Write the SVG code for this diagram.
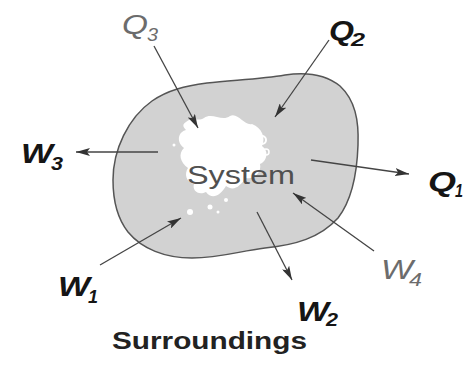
<svg xmlns="http://www.w3.org/2000/svg" width="465" height="367" viewBox="0 0 465 367">
<defs>
<marker id="ah" viewBox="0 0 14 8" refX="14" refY="4" markerWidth="14" markerHeight="8" markerUnits="userSpaceOnUse" orient="auto">
<path d="M0,0 L14,4 L0,8 L3,4 z" fill="#333"/>
</marker>
<style>
.lbl{font-family:"Liberation Sans",Arial,sans-serif;font-style:italic;}
.b{font-weight:bold;fill:#151515;}
.g{font-weight:normal;fill:#6c6c6c;}
.conn line{stroke:#444;stroke-width:1.3;marker-end:url(#ah);}
</style>
</defs>
<rect width="465" height="367" fill="#fff"/>
<g id="system">
<path d="M113,180 C113,150 128,118 152,101 C168,90 185,86 207,83 C235,80 262,79 285,75 C305,72 325,74 340,86 C355,100 359,120 358,145 C357,175 352,200 338,218 C320,238 295,245 265,248 C240,251 220,258 192,258 C165,258 142,249 128,232 C117,218 113,200 113,180 Z" fill="#d2d2d2" stroke="#555" stroke-width="1.5"/>
<path d="M186,122 C192,116 198,122 204,118 C212,112 222,122 230,116 C238,112 244,126 252,124 C262,128 266,138 262,146 C270,152 266,162 260,164 C262,172 254,180 246,178 C240,186 234,192 226,186 C220,196 212,200 206,192 C198,196 192,190 194,184 C186,182 184,174 188,168 C180,162 178,154 184,148 C176,142 178,132 186,130 C182,126 183,124 186,122 Z" fill="#fff"/>
<circle cx="190" cy="212" r="3" fill="#fff"/>
<circle cx="210" cy="207" r="2.5" fill="#fff"/>
<circle cx="226" cy="200" r="2" fill="#fff"/>
<circle cx="218" cy="212" r="1.5" fill="#fff"/>
<circle cx="174" cy="145" r="1.5" fill="#fff"/>
<circle cx="262" cy="140" r="4" fill="none" stroke="#fff" stroke-width="2"/>
<circle cx="266" cy="152" r="3" fill="none" stroke="#fff" stroke-width="1.5"/>
<text x="187" y="184" textLength="108" lengthAdjust="spacingAndGlyphs" font-family="Liberation Sans, Arial, sans-serif" font-size="26" fill="#505050">System</text>
</g>
<g id="connectors" class="conn">
<line x1="154" y1="46" x2="198" y2="128"/>
<line x1="329" y1="40" x2="275" y2="117"/>
<line x1="158" y1="152" x2="76" y2="152"/>
<line x1="311" y1="160" x2="409" y2="174"/>
<line x1="100" y1="265" x2="181" y2="218"/>
<line x1="257" y1="212" x2="292" y2="280"/>
<line x1="374" y1="251" x2="293" y2="193"/>
</g>
<g id="Q3"><text class="lbl g" x="122" y="34" font-size="28" textLength="26" lengthAdjust="spacingAndGlyphs">Q</text><text class="lbl g" x="147" y="41" font-size="18" textLength="11" lengthAdjust="spacingAndGlyphs">3</text></g>
<g id="Q2"><text class="lbl b" x="329" y="40" font-size="28" textLength="25" lengthAdjust="spacingAndGlyphs">Q</text><text class="lbl b" x="351" y="46" font-size="18" textLength="14" lengthAdjust="spacingAndGlyphs">2</text></g>
<g id="W3"><text class="lbl b" x="21" y="163" font-size="28" textLength="32" lengthAdjust="spacingAndGlyphs">W</text><text class="lbl b" x="51" y="170" font-size="18" textLength="12" lengthAdjust="spacingAndGlyphs">3</text></g>
<g id="Q1"><text class="lbl b" x="428" y="191" font-size="28" textLength="28" lengthAdjust="spacingAndGlyphs">Q</text><text class="lbl b" x="455" y="197" font-size="18" textLength="8" lengthAdjust="spacingAndGlyphs">1</text></g>
<g id="W1"><text class="lbl b" x="58" y="296" font-size="28" textLength="32" lengthAdjust="spacingAndGlyphs">W</text><text class="lbl b" x="88" y="303" font-size="18" textLength="10" lengthAdjust="spacingAndGlyphs">1</text></g>
<g id="W2"><text class="lbl b" x="297" y="321" font-size="28" textLength="32" lengthAdjust="spacingAndGlyphs">W</text><text class="lbl b" x="326" y="326" font-size="18" textLength="12" lengthAdjust="spacingAndGlyphs">2</text></g>
<g id="W4"><text class="lbl g" x="381" y="279" font-size="28" textLength="32" lengthAdjust="spacingAndGlyphs">W</text><text class="lbl g" x="409" y="286" font-size="18" textLength="13" lengthAdjust="spacingAndGlyphs">4</text></g>
<g id="surroundings"><text x="112" y="349" font-family="Liberation Sans, Arial, sans-serif" font-size="23" font-weight="bold" fill="#222" textLength="195" lengthAdjust="spacingAndGlyphs">Surroundings</text></g>
</svg>
